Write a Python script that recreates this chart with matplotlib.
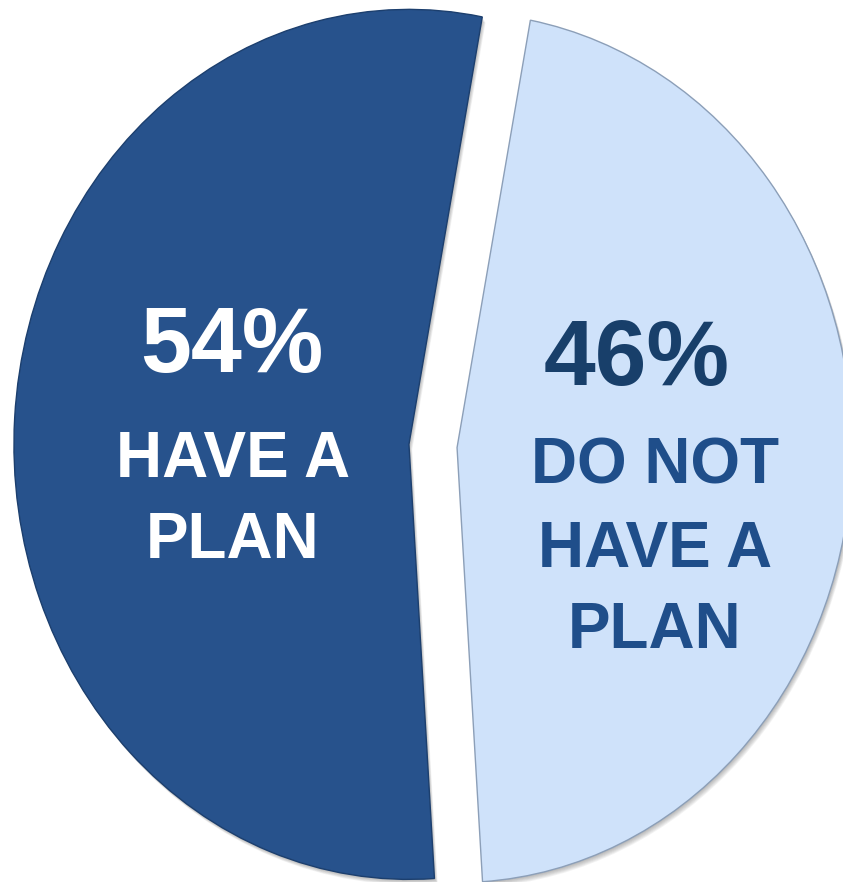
import matplotlib.pyplot as plt
from matplotlib.patches import Wedge

# survey split
labels = [["HAVE A", "PLAN"], ["DO NOT", "HAVE A", "PLAN"]]
shares = [54, 46]
slice_colors = ["#27528C", "#CFE2FA"]
edge_colors = ["#1C3F6E", "#8C9FB8"]

W, H = 843, 882
# pie centre and radii in pixels (the pie is drawn slightly taller than wide)
cx, cy, rx, ry = 433, 446, 395, 435

fig = plt.figure(figsize=(W / 100, H / 100), dpi=100)
ax = fig.add_axes([0, 0, 1, 1])

wedges, _ = ax.pie(shares, colors=slice_colors, startangle=79.3,
                   explode=[0.061, 0.061], counterclock=True,
                   wedgeprops=dict(linewidth=1.0))
for w, ec in zip(wedges, edge_colors):
    w.set_edgecolor(ec)
    w.set_zorder(3)

# soft grey drop shadow under each slice
for w in wedges:
    for k in range(1, 8):
        sh = Wedge((w.center[0] + 0.0012 * k, w.center[1] - 0.0018 * k), w.r,
                   w.theta1, w.theta2, facecolor="#555555", edgecolor="none",
                   alpha=0.07, zorder=1)
        ax.add_patch(sh)

ax.set_aspect("auto")
ax.set_xlim(-cx / rx, (W - cx) / rx)
ax.set_ylim((cy - H) / ry, cy / ry)
ax.axis("off")

font = ["Liberation Sans", "DejaVu Sans"]


def put(x, y, s, size, color):
    # y is the baseline of the line, in pixels from the top
    fig.text(x / W, 1 - y / H, s, ha="center", va="baseline", fontsize=size,
             fontweight="bold", color=color, family=font, zorder=5)


# left slice
put(232, 372, f"{shares[0]}%", 66, "white")
for line, base in zip(labels[0], [477, 558]):
    put(233, base, line, 46, "white")

# right slice
put(637, 385, f"{shares[1]}%", 67, "#183F6A")
for line, base in zip(labels[1], [483, 567, 648]):
    put(655, base, line, 46, "#1F4E8A")

fig.savefig("out.png", dpi=100)
